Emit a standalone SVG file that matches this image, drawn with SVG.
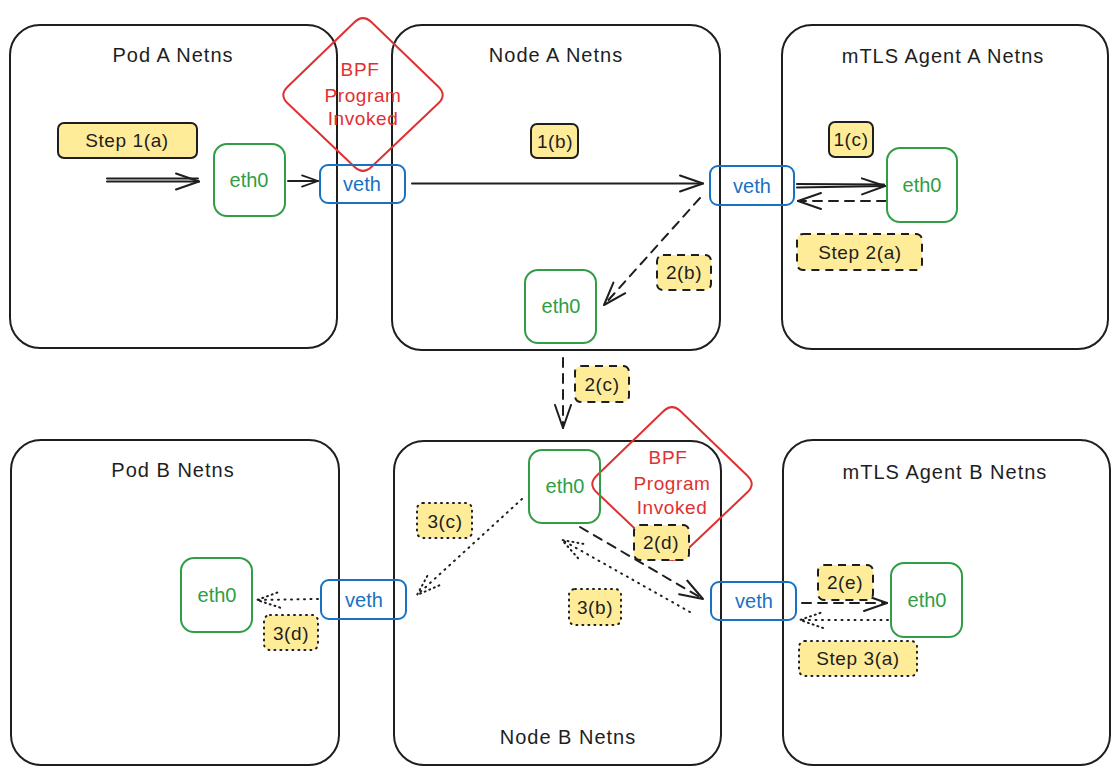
<svg xmlns="http://www.w3.org/2000/svg" width="1120" height="775" viewBox="0 0 1120 775">
<style>
.ns{fill:none;stroke:#1e1e1e;stroke-width:2}
.title{font-family:"Liberation Sans",Arial,sans-serif;font-size:20px;fill:#1e1e1e;text-anchor:middle;letter-spacing:1px}
.eth{fill:none;stroke:#2f9e44;stroke-width:2}
.etht{font-family:"Liberation Sans",Arial,sans-serif;font-size:20px;fill:#2f9e44;text-anchor:middle}
.veth{fill:none;stroke:#1971c2;stroke-width:2}
.vetht{font-family:"Liberation Sans",Arial,sans-serif;font-size:20px;fill:#1971c2;text-anchor:middle}
.bpf{fill:none;stroke:#e03131;stroke-width:2}
.bpft{font-family:"Liberation Sans",Arial,sans-serif;font-size:19px;fill:#e03131;text-anchor:middle;letter-spacing:0.6px}
.lbl{fill:#ffec99;stroke:#1e1e1e;stroke-width:2}
.lbld{stroke-dasharray:8 6}
.lblo{stroke-dasharray:1 5;stroke-linecap:round}
.lblt{font-family:"Liberation Sans",Arial,sans-serif;font-size:19px;fill:#1e1e1e;text-anchor:middle;letter-spacing:0.6px}
.c{fill:none;stroke:#1e1e1e;stroke-width:2;stroke-linecap:round}
.dash{stroke-dasharray:9 7}
.dot{stroke-dasharray:1 5.5}
</style>
<defs>
<marker id="ah" markerUnits="userSpaceOnUse" viewBox="0 0 26 20" refX="24" refY="10" markerWidth="26" markerHeight="20" orient="auto">
<path d="M1,2 L24,10 L1,18" fill="none" stroke="#1e1e1e" stroke-width="2" stroke-linecap="round" stroke-linejoin="round"/>
</marker>
<marker id="ahs" markerUnits="userSpaceOnUse" viewBox="0 0 26 20" refX="24" refY="10" markerWidth="18" markerHeight="14" orient="auto">
<path d="M1,2 L24,10 L1,18" fill="none" stroke="#1e1e1e" stroke-width="2.6" stroke-linecap="round" stroke-linejoin="round"/>
</marker>
<marker id="ahd" markerUnits="userSpaceOnUse" viewBox="0 0 26 20" refX="24" refY="10" markerWidth="26" markerHeight="20" orient="auto">
<path d="M1,2 L24,10 L1,18" fill="none" stroke="#1e1e1e" stroke-width="2" stroke-dasharray="1 4" stroke-linecap="round"/>
</marker>
<path id="diamond" d="M-8.6,-72.2 Q0,-80.5 8.6,-72.2 L75.4,-7.8 Q84,0.5 75.4,8.8 L8.6,72.2 Q0,80.5 -8.6,72.2 L-75.4,8.8 Q-84,0.5 -75.4,-7.8 Z"/>
</defs>

<g id="pod-a-netns">
<rect class="ns" x="10" y="25" width="327" height="323" rx="30"/>
<text class="title" x="173" y="62">Pod A Netns</text>
</g>
<g id="node-a-netns">
<rect class="ns" x="392" y="25" width="328" height="325" rx="30"/>
<text class="title" x="556" y="62">Node A Netns</text>
</g>
<g id="mtls-a-netns">
<rect class="ns" x="782" y="25" width="326" height="324" rx="30"/>
<text class="title" x="943" y="63">mTLS Agent A Netns</text>
</g>
<g id="pod-b-netns">
<rect class="ns" x="11" y="440" width="328" height="325" rx="30"/>
<text class="title" x="173" y="477">Pod B Netns</text>
</g>
<g id="node-b-netns">
<rect class="ns" x="394" y="441" width="327" height="324" rx="30"/>
<text class="title" x="568" y="744">Node B Netns</text>
</g>
<g id="mtls-b-netns">
<rect class="ns" x="783" y="440" width="327" height="325" rx="30"/>
<text class="title" x="945" y="479">mTLS Agent B Netns</text>
</g>

<g id="bpf-a">
<use href="#diamond" class="bpf" transform="translate(363,94.5)"/>
<text class="bpft" x="360" y="76">BPF</text>
<text class="bpft" x="363" y="102">Program</text>
<text class="bpft" x="363" y="125">Invoked</text>
</g>
<g id="bpf-b">
<use href="#diamond" class="bpf" transform="translate(672,483.5)"/>
<text class="bpft" x="668" y="464">BPF</text>
<text class="bpft" x="672" y="490">Program</text>
<text class="bpft" x="672" y="514">Invoked</text>
</g>

<g id="connectors">
<path class="c" d="M107,178.5 L198,178.5"/>
<path class="c" d="M107,181.5 L199,181.5" marker-end="url(#ah)"/>
<path class="c" d="M288,181 L318,181" stroke-width="2.5" marker-end="url(#ahs)"/>
<path class="c" d="M412,183.5 L703,183.5" stroke-width="2.6" marker-end="url(#ah)"/>
<path class="c" d="M797,184 L884,184.5"/>
<path class="c" d="M797,187.5 L885,186" marker-end="url(#ah)"/>
<path class="c dash" d="M886,201 L798,201" marker-end="url(#ah)"/>
<path class="c dash" d="M700,198 L604,305" marker-end="url(#ah)"/>
<path class="c dash" d="M563,358 L563,428" marker-end="url(#ah)"/>
<path class="c dash" d="M580,527 L703,599" marker-end="url(#ah)"/>
<path class="c dot" d="M690,612 L562,540" marker-end="url(#ahd)"/>
<path class="c dot" d="M522,499 L417,595" marker-end="url(#ahd)"/>
<path class="c dot" d="M318,599 L257,600" marker-end="url(#ahd)"/>
<path class="c dash" d="M802,603 L887,603" marker-end="url(#ah)"/>
<path class="c dot" d="M888,620 L800,620" marker-end="url(#ahd)"/>
</g>

<g id="step-1a">
<rect class="lbl" x="58" y="123" width="139" height="35" rx="6"/>
<text class="lblt" x="127" y="147">Step 1(a)</text>
</g>
<g id="eth0-pod-a">
<rect class="eth" x="214" y="144" width="71" height="72" rx="13"/>
<text class="etht" x="249" y="187">eth0</text>
</g>
<g id="veth-pod-a">
<rect class="veth" x="320" y="165" width="85" height="38" rx="8"/>
<text class="vetht" x="362" y="191">veth</text>
</g>
<g id="step-1b">
<rect class="lbl" x="531" y="124" width="47" height="34" rx="6"/>
<text class="lblt" x="555" y="148">1(b)</text>
</g>
<g id="veth-node-a">
<rect class="veth" x="710" y="166" width="84" height="39" rx="8"/>
<text class="vetht" x="752" y="193">veth</text>
</g>
<g id="step-1c">
<rect class="lbl" x="829" y="122" width="44" height="35" rx="6"/>
<text class="lblt" x="851" y="146">1(c)</text>
</g>
<g id="eth0-mtls-a">
<rect class="eth" x="887" y="148" width="70" height="74" rx="13"/>
<text class="etht" x="922" y="192">eth0</text>
</g>
<g id="step-2a">
<rect class="lbl lbld" x="797" y="234" width="125" height="36" rx="6"/>
<text class="lblt" x="860" y="259">Step 2(a)</text>
</g>
<g id="step-2b">
<rect class="lbl lbld" x="657" y="255" width="54" height="35" rx="6"/>
<text class="lblt" x="684" y="279">2(b)</text>
</g>
<g id="eth0-node-a">
<rect class="eth" x="525" y="270" width="71" height="73" rx="13"/>
<text class="etht" x="561" y="313">eth0</text>
</g>
<g id="step-2c">
<rect class="lbl lbld" x="575" y="366" width="54" height="36" rx="6"/>
<text class="lblt" x="602" y="391">2(c)</text>
</g>
<g id="eth0-node-b">
<rect class="eth" x="529" y="450" width="71" height="73" rx="13"/>
<text class="etht" x="565" y="493">eth0</text>
</g>
<g id="step-2d">
<rect class="lbl lbld" x="634" y="525" width="55" height="35" rx="6"/>
<text class="lblt" x="661" y="549">2(d)</text>
</g>
<g id="step-3b">
<rect class="lbl lblo" x="569" y="589" width="52" height="36" rx="6"/>
<text class="lblt" x="595" y="614">3(b)</text>
</g>
<g id="step-3c">
<rect class="lbl lblo" x="417" y="503" width="55" height="35" rx="6"/>
<text class="lblt" x="445" y="528">3(c)</text>
</g>
<g id="veth-node-b">
<rect class="veth" x="711" y="582" width="85" height="38" rx="8"/>
<text class="vetht" x="754" y="608">veth</text>
</g>
<g id="veth-pod-b">
<rect class="veth" x="321" y="580" width="85" height="39" rx="8"/>
<text class="vetht" x="364" y="607">veth</text>
</g>
<g id="eth0-pod-b">
<rect class="eth" x="181" y="558" width="71" height="74" rx="13"/>
<text class="etht" x="217" y="602">eth0</text>
</g>
<g id="step-3d">
<rect class="lbl lblo" x="264" y="615" width="54" height="35" rx="6"/>
<text class="lblt" x="291" y="640">3(d)</text>
</g>
<g id="step-2e">
<rect class="lbl lbld" x="818" y="565" width="55" height="35" rx="6"/>
<text class="lblt" x="845" y="589">2(e)</text>
</g>
<g id="eth0-mtls-b">
<rect class="eth" x="891" y="563" width="71" height="74" rx="13"/>
<text class="etht" x="927" y="607">eth0</text>
</g>
<g id="step-3a">
<rect class="lbl lblo" x="799" y="641" width="118" height="35" rx="6"/>
<text class="lblt" x="858" y="665">Step 3(a)</text>
</g>
</svg>
